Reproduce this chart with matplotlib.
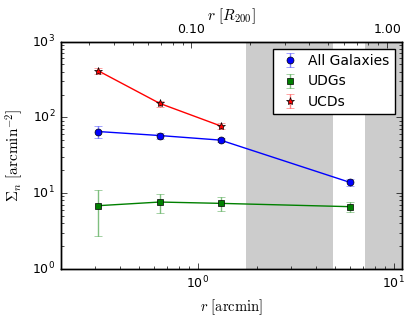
import matplotlib
matplotlib.use("Agg")
import matplotlib.pyplot as plt
from matplotlib.ticker import FixedLocator, FormatStrFormatter, NullFormatter

plt.style.use("classic")
plt.rcParams["mathtext.fontset"] = "cm"
plt.rcParams["font.size"] = 9

# radius bins [arcmin]
r_all = [0.31, 0.64, 1.31, 6.0]
r_udg = [0.31, 0.64, 1.31, 6.0]
r_ucd = [0.31, 0.64, 1.31]

# surface densities [arcmin^-2]
sig_all = [65.0, 57.5, 50.0, 13.8]
err_all = [12.0, 5.0, 3.0, 1.5]
sig_udg = [6.8, 7.6, 7.3, 6.6]
err_udg_lo = [4.1, 2.1, 1.6, 1.0]
err_udg_hi = [4.1, 2.1, 1.6, 1.0]
sig_ucd = [414.0, 153.0, 77.0]
err_ucd = [35.0, 14.0, 7.0]

# excluded radial ranges [arcmin]
gray_spans = [(1.76, 4.9), (7.15, 11.0)]

R200 = 9.3  # arcmin
xlim = (0.2, 11.0)

fig = plt.figure(figsize=(4.15, 3.17), dpi=100, facecolor="white")
ax = fig.add_axes([0.1463, 0.1524, 0.8217, 0.7161])

for lo, hi in gray_spans:
    ax.axvspan(lo, hi, color="0.8", lw=0, zorder=0)

# connecting lines
ax.plot(r_all, sig_all, "-", color="blue", lw=1)
ax.plot(r_udg, sig_udg, "-", color="green", lw=1)
ax.plot(r_ucd, sig_ucd, "-", color="red", lw=1)

ax.errorbar(r_all, sig_all, yerr=err_all, fmt="o", color="blue",
            ecolor=(0, 0, 1, 0.5), mec="k", mew=0.5, ms=5, capsize=3,
            label="All Galaxies")
ax.errorbar(r_udg, sig_udg, yerr=[err_udg_lo, err_udg_hi], fmt="s",
            color="green", ecolor=(0, 0.5, 0, 0.5), mec="k", mew=0.5,
            ms=5, capsize=3, label="UDGs")
ax.errorbar(r_ucd, sig_ucd, yerr=err_ucd, fmt="*", color="red",
            ecolor=(1, 0, 0, 0.5), mec="k", mew=0.5, ms=6, capsize=3,
            label="UCDs")

ax.set_xscale("log")
ax.set_yscale("log")
ax.set_xlim(*xlim)
ax.set_ylim(1, 1000)
ax.set_xlabel(r"$r\ [\mathrm{arcmin}]$", fontsize=10.5)
ax.set_ylabel(r"$\Sigma_n\ [\mathrm{arcmin}^{-2}]$", fontsize=11)
ax.tick_params(labelsize=9)

leg = ax.legend(loc="upper right", numpoints=1, fontsize=10,
                fancybox=False, borderaxespad=0.5, handletextpad=0.5,
                handlelength=1.6, labelspacing=0.45)
leg.get_frame().set_edgecolor("k")

# top axis in units of R200
top = ax.twiny()
top.set_xscale("log")
top.set_xlim(xlim[0] / R200, xlim[1] / R200)
top.xaxis.set_major_locator(FixedLocator([0.1, 1.0]))
top.xaxis.set_major_formatter(FormatStrFormatter("%.2f"))
top.xaxis.set_minor_formatter(NullFormatter())
top.tick_params(labelsize=9)
top.set_xlabel(r"$r\ [R_{200}]$", fontsize=11, labelpad=2)

fig.savefig("out.png", dpi=100, facecolor="white")
